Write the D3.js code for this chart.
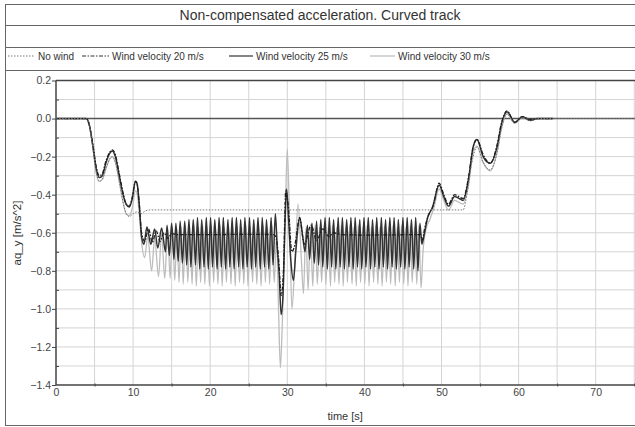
<!DOCTYPE html>
<html>
<head>
<meta charset="utf-8">
<title>Non-compensated acceleration. Curved track</title>
<script src="https://cdnjs.cloudflare.com/ajax/libs/d3/7.8.5/d3.min.js"></script>
<style>
  body { margin: 0; background: #fff; }
  svg { display: block; background: #fff; font-family: "Liberation Sans", Arial, sans-serif; }
</style>
</head>
<body>
<svg width="635" height="427"></svg>
<script>
// ---- data: [time s, aq_y m/s^2] ----
var title = "Non-compensated acceleration. Curved track";
var seriesNames = ["No wind", "Wind velocity 20 m/s", "Wind velocity 25 m/s", "Wind velocity 30 m/s"];
var xTicks = [0, 10, 20, 30, 40, 50, 60, 70];
var yTicks = [0.2, 0.0, -0.2, -0.4, -0.6, -0.8, -1.0, -1.2, -1.4];

var noWind = [[0,0],[3.9,0],[4.3,-0.03],[4.8,-0.16],[5.2,-0.28],[5.6,-0.33],[6.0,-0.32],[6.5,-0.26],
  [7.0,-0.21],[7.3,-0.2],[7.7,-0.23],[8.2,-0.33],[8.7,-0.44],[9.1,-0.5],[9.5,-0.515],[10.0,-0.5],
  [10.5,-0.49],[11.0,-0.5],[11.6,-0.485],[12.2,-0.48],[20,-0.48],[30,-0.48],[40,-0.48],[52.8,-0.48],
  [53.3,-0.4],[53.9,-0.24],[54.6,-0.15],[55.4,-0.23],[56.3,-0.27],[57.2,-0.18],[57.8,-0.05],
  [58.5,0.025],[59.5,-0.025],[60.5,0.005],[61.5,-0.01],[62.5,0],[80,0]];

var wind20 = [[0,0],[3.9,0],[4.3,-0.03],[4.8,-0.14],[5.2,-0.25],[5.6,-0.3],[6.0,-0.29],[6.5,-0.22],
  [7.0,-0.175],[7.3,-0.165],[7.7,-0.19],[8.2,-0.29],[8.7,-0.39],[9.1,-0.45],[9.5,-0.46],[9.9,-0.41],
  [10.3,-0.33],[10.5,-0.34],[10.8,-0.45],[11.1,-0.6],[11.5,-0.645],[12.0,-0.58],[12.5,-0.65],
  [13.0,-0.59],[13.5,-0.645],[14.0,-0.6],[14.5,-0.63],[15.0,-0.605],[15.8,-0.61],[20,-0.61],
  [25,-0.608],[28.2,-0.61],[28.5,-0.62],[28.9,-0.75],[29.2,-0.93],[29.5,-0.8],[29.8,-0.38],
  [30.1,-0.45],[30.6,-0.7],[31.0,-0.66],[31.6,-0.52],[32.2,-0.66],[33.1,-0.56],[33.8,-0.64],
  [34.6,-0.58],[35.4,-0.62],[36.0,-0.6],[37,-0.61],[40,-0.612],[47.3,-0.61],[47.5,-0.64],
  [47.8,-0.58],[48.3,-0.51],[48.9,-0.46],[49.7,-0.34],[50.3,-0.4],[50.9,-0.45],[51.7,-0.4],
  [52.8,-0.42],[53.5,-0.31],[54.1,-0.15],[54.6,-0.11],[55.4,-0.19],[56.3,-0.235],[57.2,-0.14],
  [57.8,-0.02],[58.5,0.04],[59.5,-0.02],[60.5,0.01],[61.5,-0.005],[62.5,0],[64.5,0]];

var wind25 = [[0,0],[3.9,0],[4.3,-0.03],[4.8,-0.15],[5.2,-0.26],[5.6,-0.31],[6.0,-0.3],[6.5,-0.23],
  [7.0,-0.18],[7.3,-0.17],[7.7,-0.2],[8.2,-0.3],[8.7,-0.4],[9.1,-0.45],[9.5,-0.465],[9.9,-0.42],
  [10.3,-0.33],[10.5,-0.34],[10.8,-0.45],[11.1,-0.62],[11.4,-0.66],[11.8,-0.57],[12.3,-0.66],
  [12.8,-0.58],[13.2,-0.68],[13.7,-0.575],[14.2,-0.7],
  [14.4,-0.56],[14.7,-0.72],[15.0,-0.55],[15.3,-0.74],[15.55,-0.55],[15.85,-0.75],[16.1,-0.54],
  [16.4,-0.76],[16.7,-0.54],[16.95,-0.77],[17.25,-0.53],[17.5,-0.78],[17.8,-0.53],[18.1,-0.77],
  [18.35,-0.52],[18.65,-0.79],[18.9,-0.53],[19.2,-0.78],[19.5,-0.52],[19.75,-0.79],[20.05,-0.52],
  [20.3,-0.78],[20.6,-0.53],[20.9,-0.79],[21.15,-0.52],[21.45,-0.78],[21.7,-0.52],[22.0,-0.79],
  [22.3,-0.53],[22.55,-0.78],[22.85,-0.52],[23.1,-0.79],[23.4,-0.52],[23.7,-0.78],[23.95,-0.53],
  [24.25,-0.79],[24.5,-0.52],[24.8,-0.78],[25.1,-0.52],[25.35,-0.79],[25.65,-0.53],[25.9,-0.78],
  [26.2,-0.52],[26.5,-0.79],[26.75,-0.52],[27.05,-0.78],[27.3,-0.53],[27.6,-0.79],[27.9,-0.52],
  [28.15,-0.77],[28.45,-0.5],[28.7,-0.68],[28.95,-0.82],[29.2,-1.03],[29.45,-0.92],[29.7,-0.55],
  [29.9,-0.37],[30.15,-0.52],[30.45,-0.74],[30.8,-0.85],[31.1,-0.7],[31.6,-0.52],[32.0,-0.62],
  [32.3,-0.7],[32.6,-0.56],[32.9,-0.74],[33.2,-0.55],[33.5,-0.76],[33.8,-0.54],[34.05,-0.77],
  [34.35,-0.53],[34.6,-0.78],[34.9,-0.52],[35.2,-0.79],[35.45,-0.52],[35.75,-0.78],[36.0,-0.53],
  [36.3,-0.79],[36.6,-0.52],[36.85,-0.78],[37.15,-0.52],[37.4,-0.79],[37.7,-0.53],[38.0,-0.78],
  [38.25,-0.52],[38.55,-0.79],[38.8,-0.52],[39.1,-0.78],[39.4,-0.53],[39.65,-0.79],[39.95,-0.52],
  [40.2,-0.78],[40.5,-0.52],[40.8,-0.79],[41.05,-0.53],[41.35,-0.78],[41.6,-0.52],[41.9,-0.79],
  [42.2,-0.52],[42.45,-0.78],[42.75,-0.53],[43.0,-0.79],[43.3,-0.52],[43.6,-0.78],[43.85,-0.52],
  [44.15,-0.79],[44.4,-0.53],[44.7,-0.78],[45.0,-0.52],[45.25,-0.79],[45.55,-0.52],[45.8,-0.78],
  [46.1,-0.53],[46.4,-0.79],[46.65,-0.52],[46.95,-0.8],[47.2,-0.55],[47.45,-0.66],[47.8,-0.6],
  [48.2,-0.52],[48.8,-0.47],[49.7,-0.35],[50.3,-0.41],[50.9,-0.46],[51.7,-0.41],[52.8,-0.43],
  [53.5,-0.32],[54.1,-0.15],[54.6,-0.11],[55.4,-0.2],[56.3,-0.235],[57.2,-0.15],[57.8,-0.025],
  [58.5,0.036],[59.5,-0.02],[60.5,0.01],[61.5,-0.01],[62.5,0],[64.5,0]];

var wind30 = [[0,0],[3.9,0],[4.3,-0.03],[4.8,-0.16],[5.2,-0.28],[5.6,-0.33],[6.0,-0.32],[6.5,-0.26],
  [7.0,-0.21],[7.3,-0.2],[7.7,-0.23],[8.2,-0.33],[8.7,-0.44],[9.1,-0.5],[9.5,-0.51],[9.9,-0.47],
  [10.3,-0.38],[10.5,-0.39],[10.8,-0.5],[11.1,-0.65],[11.5,-0.73],[11.9,-0.62],[12.4,-0.8],
  [12.8,-0.63],[13.3,-0.83],[13.7,-0.6],[14.1,-0.84],
  [14.5,-0.58],[14.8,-0.84],[15.1,-0.57],[15.4,-0.85],[15.7,-0.58],[15.95,-0.86],[16.25,-0.57],
  [16.5,-0.87],[16.8,-0.56],[17.1,-0.86],[17.35,-0.57],[17.65,-0.87],[17.9,-0.56],[18.2,-0.88],
  [18.5,-0.57],[18.75,-0.86],[19.05,-0.56],[19.3,-0.87],[19.6,-0.57],[19.9,-0.88],[20.15,-0.56],
  [20.45,-0.86],[20.7,-0.57],[21.0,-0.87],[21.3,-0.56],[21.55,-0.88],[21.85,-0.57],[22.1,-0.86],
  [22.4,-0.56],[22.7,-0.87],[22.95,-0.57],[23.25,-0.88],[23.5,-0.56],[23.8,-0.86],[24.1,-0.57],
  [24.35,-0.87],[24.65,-0.56],[24.9,-0.88],[25.2,-0.57],[25.5,-0.86],[25.75,-0.56],[26.05,-0.87],
  [26.3,-0.57],[26.6,-0.88],[26.9,-0.56],[27.15,-0.86],[27.45,-0.57],[27.7,-0.87],[28.0,-0.56],
  [28.3,-0.86],[28.6,-0.62],[28.85,-0.98],[29.1,-1.31],[29.35,-1.08],[29.7,-0.58],[30.0,-0.16],
  [30.3,-0.55],[30.6,-1.0],[31.0,-0.74],[31.4,-0.45],[31.8,-0.72],[32.1,-0.92],[32.4,-0.58],
  [32.7,-0.9],[33.0,-0.57],[33.3,-0.88],[33.6,-0.56],[33.9,-0.87],[34.2,-0.57],[34.45,-0.86],
  [34.75,-0.56],[35.0,-0.87],[35.3,-0.57],[35.6,-0.88],[35.85,-0.56],[36.15,-0.86],[36.4,-0.57],
  [36.7,-0.87],[37.0,-0.56],[37.25,-0.88],[37.55,-0.57],[37.8,-0.86],[38.1,-0.56],[38.4,-0.87],
  [38.65,-0.57],[38.95,-0.88],[39.2,-0.56],[39.5,-0.86],[39.8,-0.57],[40.05,-0.87],[40.35,-0.56],
  [40.6,-0.88],[40.9,-0.57],[41.2,-0.86],[41.45,-0.56],[41.75,-0.87],[42.0,-0.57],[42.3,-0.88],
  [42.6,-0.56],[42.85,-0.86],[43.15,-0.57],[43.4,-0.87],[43.7,-0.56],[44.0,-0.88],[44.25,-0.57],
  [44.55,-0.86],[44.8,-0.56],[45.1,-0.87],[45.4,-0.57],[45.65,-0.88],[45.95,-0.56],[46.2,-0.86],
  [46.5,-0.57],[46.8,-0.87],[47.05,-0.56],[47.35,-0.89],[47.6,-0.7],[48.0,-0.58],[48.5,-0.53],
  [49.0,-0.47],[49.7,-0.37],[50.3,-0.43],[50.9,-0.48],[51.7,-0.43],[52.8,-0.45],[53.5,-0.35],
  [54.1,-0.18],[54.6,-0.145],[55.4,-0.23],[56.3,-0.275],[57.2,-0.18],[57.8,-0.05],[58.5,0.025],
  [59.5,-0.025],[60.5,0.005],[61.5,-0.01],[62.5,0],[64.5,0]];

// ---- layout ----
var svg = d3.select("svg");
var plotLeft = 56, plotTop = 80.5, plotBottom = 385;

var x = d3.scaleLinear().domain([0, 80]).range([plotLeft, plotLeft + 7.71 * 80]);
var y = d3.scaleLinear().domain([-1.4, 0.2]).range([plotBottom, plotTop]);

// outer frame and header rows
svg.append("rect").attr("x", 5.5).attr("y", 4.5).attr("width", 660).attr("height", 421)
  .attr("fill", "none").attr("stroke", "#666");
[25.5, 47.5, 70.5].forEach(function(yy) {
  svg.append("line").attr("x1", 5.5).attr("x2", 640).attr("y1", yy).attr("y2", yy)
    .attr("stroke", "#666");
});
svg.append("text").attr("x", 320).attr("y", 20).attr("text-anchor", "middle")
  .attr("font-size", "14px").attr("fill", "#333").text(title);

// legend
var legendItems = [
  {x1: 8, x2: 35, tx: 38, color: "#777", dash: "1.5,1.5", w: 1},
  {x1: 82, x2: 109, tx: 112, color: "#333", dash: "4,1.5,1.5,1.5", w: 1},
  {x1: 229, x2: 253, tx: 256, color: "#333", dash: null, w: 1.2},
  {x1: 370, x2: 395, tx: 398, color: "#bbb", dash: null, w: 1.2}
];
legendItems.forEach(function(d, i) {
  svg.append("line").attr("x1", d.x1).attr("x2", d.x2).attr("y1", 56).attr("y2", 56)
    .attr("stroke", d.color).attr("stroke-width", d.w).attr("stroke-dasharray", d.dash);
  svg.append("text").attr("x", d.tx).attr("y", 59.5).attr("font-size", "10px")
    .attr("fill", "#333").text(seriesNames[i]);
});

// grid
var g = svg.append("g");
g.selectAll(".vg").data(d3.range(5, 81, 5)).enter().append("line")
  .attr("x1", function(d) { return x(d); }).attr("x2", function(d) { return x(d); })
  .attr("y1", plotTop).attr("y2", plotBottom).attr("stroke", "#d4d4d4");
g.selectAll(".hg").data(d3.range(-13, 2, 1)).enter().append("line")
  .attr("x1", plotLeft).attr("x2", 640)
  .attr("y1", function(d) { return y(d / 10); }).attr("y2", function(d) { return y(d / 10); })
  .attr("stroke", "#d4d4d4");

// zero line
svg.append("line").attr("x1", plotLeft).attr("x2", 640).attr("y1", y(0)).attr("y2", y(0))
  .attr("stroke", "#555").attr("stroke-width", 1.5);

// series
svg.append("clipPath").attr("id", "clip").append("rect")
  .attr("x", plotLeft).attr("y", plotTop).attr("width", 640 - plotLeft)
  .attr("height", plotBottom - plotTop);
var line = d3.line().x(function(d) { return x(d[0]); }).y(function(d) { return y(d[1]); })
  .curve(d3.curveMonotoneX);
var plot = svg.append("g").attr("clip-path", "url(#clip)");
plot.append("path").datum(wind30).attr("d", line).attr("fill", "none")
  .attr("stroke", "#bcbcbc").attr("stroke-width", 1.3);
plot.append("path").datum(wind25).attr("d", line).attr("fill", "none")
  .attr("stroke", "#333").attr("stroke-width", 1.5);
plot.append("path").datum(wind20).attr("d", line).attr("fill", "none")
  .attr("stroke", "#1e1e1e").attr("stroke-width", 1.3).attr("stroke-dasharray", "4,1.5,1.5,1.5");
plot.append("path").datum(noWind).attr("d", line).attr("fill", "none")
  .attr("stroke", "#777").attr("stroke-width", 1).attr("stroke-dasharray", "1.5,1.5");

// axes
var xAxis = d3.axisBottom(x).tickValues(xTicks).tickSize(0).tickPadding(4)
  .tickFormat(d3.format("d"));
var xg = svg.append("g").attr("transform", "translate(0," + plotBottom + ")").call(xAxis);
xg.select(".domain").remove();
xg.selectAll("text").attr("font-size", "10.5px").attr("fill", "#444")
  .attr("font-family", "Liberation Sans, Arial, sans-serif");
var xMinor = d3.axisBottom(x).tickValues(d3.range(5, 80, 10)).tickSize(3).tickFormat("");
var xm = svg.append("g").attr("transform", "translate(0," + (plotBottom - 1.5) + ")").call(xMinor);
xm.select(".domain").remove();
xm.selectAll("line").attr("stroke", "#444");

var yAxis = d3.axisLeft(y).tickValues(yTicks).tickSize(4).tickPadding(1)
  .tickFormat(d3.format(".1f"));
var yg = svg.append("g").attr("transform", "translate(" + plotLeft + ",0)").call(yAxis);
yg.select(".domain").remove();
yg.selectAll("line").attr("stroke", "#444");
yg.selectAll("text").attr("font-size", "10.5px").attr("fill", "#444")
  .attr("font-family", "Liberation Sans, Arial, sans-serif");
var yMinor = d3.axisRight(y).tickValues(d3.range(-13, 2, 2).map(function(d) { return d / 10; }))
  .tickSize(3).tickFormat("");
var ym = svg.append("g").attr("transform", "translate(" + plotLeft + ",0)").call(yMinor);
ym.select(".domain").remove();
ym.selectAll("line").attr("stroke", "#444");

// plot frame
svg.append("line").attr("x1", plotLeft).attr("x2", 640).attr("y1", plotBottom).attr("y2", plotBottom)
  .attr("stroke", "#444").attr("stroke-width", 1.5);
svg.append("line").attr("x1", plotLeft).attr("x2", 640).attr("y1", plotTop).attr("y2", plotTop)
  .attr("stroke", "#444").attr("stroke-width", 1.5);
svg.append("line").attr("x1", plotLeft).attr("x2", plotLeft).attr("y1", plotTop).attr("y2", plotBottom)
  .attr("stroke", "#444").attr("stroke-width", 1.5);

// axis titles
svg.append("text").attr("x", x(37.5)).attr("y", 420).attr("text-anchor", "middle")
  .attr("font-size", "11px").attr("fill", "#333").text("time [s]");
svg.append("text").attr("transform", "translate(21,233) rotate(-90)")
  .attr("text-anchor", "middle").attr("font-size", "11.5px").attr("fill", "#333")
  .text("aq_y [m/s^2]");
</script>
</body>
</html>
